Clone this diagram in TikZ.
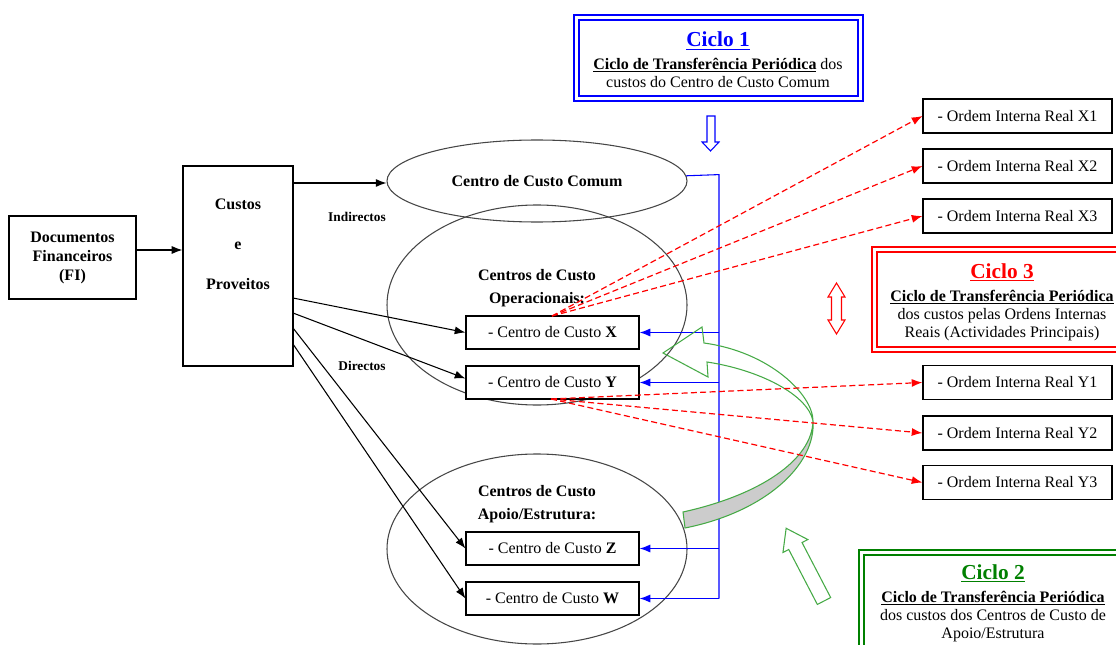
\documentclass[tikz,border=0pt]{standalone}
\usepackage{fontspec}
\setmainfont{Liberation Serif}
\usetikzlibrary{arrows.meta,shapes.geometric,calc}
\definecolor{cblue}{RGB}{0,0,255}
\definecolor{cred}{RGB}{255,0,0}
\definecolor{cgreen}{RGB}{0,128,0}
\definecolor{lgreen}{RGB}{70,170,70}
\definecolor{egray}{RGB}{70,70,70}
\begin{document}
\begin{tikzpicture}[x=0.75pt,y=-0.75pt,
  every node/.style={font=\fontsize{12}{13.5}\selectfont, inner sep=0pt, align=center},
  bx/.style={draw=black, line width=0.9pt, rectangle},
  ell/.style={draw=egray, line width=0.8pt, ellipse},
  blk/.style={draw=black, line width=0.8pt, -{Latex[length=8pt,width=6pt]}},
  blu/.style={draw=cblue, line width=0.8pt},
  bluarr/.style={blu, -{Latex[length=8pt,width=6pt]}},
  rdash/.style={draw=cred, line width=0.9pt, dash pattern=on 4.5pt off 2.5pt, -{Latex[length=8pt,width=6pt]}},
  lbl/.style={font=\fontsize{10}{12}\selectfont\bfseries}
]
\useasboundingbox (0,0) rectangle (1116,645);
\clip (0,0) rectangle (1116,645);

% ---- left boxes
\node[bx, minimum width=127*0.75pt, minimum height=83*0.75pt, font=\fontsize{12}{14.25}\selectfont\bfseries] (fi) at (72.5,257.5) {Documentos\\Financeiros\\(FI)};
\node[bx, minimum width=110*0.75pt, minimum height=200*0.75pt] (cp) at (238,266) {};
\node[font=\fontsize{12}{30}\selectfont\bfseries] (cpt) at (238,244) {Custos\\e\\Proveitos};
\draw[blk] (fi.east |- 0,250) coordinate (fia) -- (cp.west |- fia);

% ---- ellipses
\node[ell, minimum width=300*0.75pt, minimum height=82*0.75pt, font=\fontsize{12}{13.5}\selectfont\bfseries] (comum) at (537,181) {Centro de Custo Comum};
\node[ell, minimum width=300*0.75pt, minimum height=200*0.75pt] (oper) at (537,305) {};
\node[font=\fontsize{12}{17}\selectfont\bfseries] (opert) at (537,288) {Centros de Custo\\Operacionais:};
\node[ell, minimum width=300*0.75pt, minimum height=190*0.75pt] (apoio) at (537,549) {};
\node[font=\fontsize{12}{17}\selectfont\bfseries] (apoiot) at (537,504) {Centros de Custo\\Apoio/Estrutura:};

% ---- cost centre boxes
\node[bx, fill=white, minimum width=173*0.75pt, minimum height=33*0.75pt] (cx) at (552.5,332.5) {- Centro de Custo \textbf{X}};
\node[bx, fill=white, minimum width=173*0.75pt, minimum height=33*0.75pt] (cy) at (552.5,382.5) {- Centro de Custo \textbf{Y}};
\node[bx, fill=white, minimum width=173*0.75pt, minimum height=33*0.75pt] (cz) at (552.5,548.5) {- Centro de Custo \textbf{Z}};
\node[bx, fill=white, minimum width=173*0.75pt, minimum height=33*0.75pt] (cw) at (552.5,598.5) {- Centro de Custo \textbf{W}};

% ---- internal order boxes
\foreach \n/\t/\yy in {ox1/X1/116, ox2/X2/166, ox3/X3/216, oy1/Y1/382.5, oy2/Y2/433, oy3/Y3/482.5}{
  \node[bx, minimum width=189*0.75pt, minimum height=34*0.75pt] (\n) at (1017.5,\yy) {- Ordem Interna Real \t};
}

% ---- black connectors
\draw[blk] (cp.east |- 0,183) coordinate (cpa) -- (comum.west |- cpa);
\node[lbl] (ind) at (357,217) {Indirectos};
\node[lbl] (dir) at (362,366) {Directos};
\coordinate (s1) at (293,298);
\coordinate (s2) at (293,313);
\coordinate (s3) at (293,328);
\coordinate (s4) at (293,344);
\draw[blk] (s1) -- (cx.west);
\draw[blk] (s2) -- ($(cy.west)+(0,-4)$);
\draw[blk] (s3) -- (cz.west);
\draw[blk] (s4) -- (cw.west);

% ---- blue bus
\coordinate (bus) at (719,174.6);
\draw[blu] (comum.2.5) -- (bus) -- (bus |- cw.east);
\draw[bluarr] (bus |- cx.east) -- (cx.east);
\draw[bluarr] (bus |- cy.east) -- (cy.east);
\draw[bluarr] (bus |- cz.east) -- (cz.east);
\draw[bluarr] (bus |- cw.east) -- (cw.east);

% ---- green curved arrow
\draw[lgreen, line width=0.8pt, fill=black!20] (683,512) .. controls (760,495) and (812,460) .. (813,421) .. controls (816,465) and (765,512) .. (685,528) -- cycle;
\draw[lgreen, line width=0.8pt, line join=miter] (813,421) .. controls (813,395) and (770,352) .. (704,343) -- (702,327) -- (663,353) -- (708,377) -- (707,362) .. controls (760,370) and (808,395) .. (813,421);

% ---- red dashed
\coordinate (xsrc) at (552,316);
\coordinate (ysrc) at (551,399);
\draw[rdash] (xsrc) -- (ox1.west);
\draw[rdash] (xsrc) -- (ox2.west);
\draw[rdash] (xsrc) -- (ox3.west);
\draw[rdash] (ysrc) -- (oy1.west);
\draw[rdash] (ysrc) -- (oy2.west);
\draw[rdash] (ysrc) -- (oy3.west);

% ---- hollow arrows
\draw[cblue, line width=0.8pt, fill=white] (707,116) -- (715,116) -- (715,142) -- (719,142) -- (710.5,151) -- (702,142) -- (707,142) -- cycle;
\draw[cred, line width=0.8pt, fill=white] (836.5,283) -- (845,297) -- (841.5,297) -- (841.5,320) -- (845,320) -- (836.5,334) -- (828,320) -- (831.5,320) -- (831.5,297) -- (828,297) -- cycle;
\begin{scope}[shift={(824,601)}, rotate=117.5]
\draw[lgreen, line width=0.8pt, fill=white] (0,-7.5) -- (62,-7.5) -- (62,-14) -- (82,0) -- (62,14) -- (62,7.5) -- (0,7.5) -- cycle;
\end{scope}

% ---- Ciclo 1
\draw[cblue, line width=1.6pt] (574,15) rectangle (863,101);
\draw[cblue, line width=0.9pt] (579,20) rectangle (858,96);
\node (c1) at (718,60) {{\fontsize{16}{18}\selectfont\bfseries\color{cblue}\underline{Ciclo 1}}\\[3.5pt]
  \underline{\textbf{Ciclo de Transferência Periódica}} dos\\custos do Centro de Custo Comum};

% ---- Ciclo 3
\draw[cred, line width=1.6pt] (872,247) rectangle (1140,352);
\draw[cred, line width=0.9pt] (877,252) rectangle (1135,347);
\node (c3) at (1002,302) {{\fontsize{16}{18}\selectfont\bfseries\color{cred}\underline{Ciclo 3}}\\[3.5pt]
  \underline{\textbf{Ciclo de Transferência Periódica}}\\dos custos pelas Ordens Internas\\Reais (Actividades Principais)};

% ---- Ciclo 2
\draw[cgreen, line width=1.6pt] (859,550) rectangle (1140,680);
\draw[cgreen, line width=0.9pt] (864,555) rectangle (1135,675);
\node (c2) at (993,603) {{\fontsize{16}{18}\selectfont\bfseries\color{cgreen}\underline{Ciclo 2}}\\[3.5pt]
  \underline{\textbf{Ciclo de Transferência Periódica}}\\dos custos dos Centros de Custo de\\Apoio/Estrutura};
\end{tikzpicture}
\end{document}
